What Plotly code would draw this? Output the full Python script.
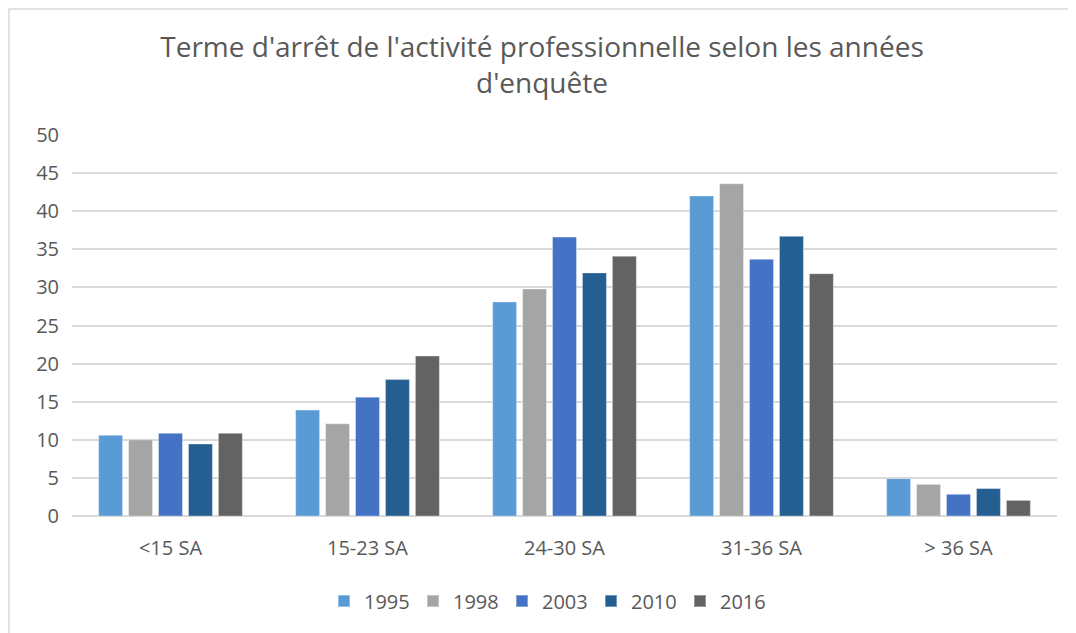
import plotly.graph_objects as go

categories = ["<15 SA", "15-23 SA", "24-30 SA", "31-36 SA", "> 36 SA"]
years = ["1995", "1998", "2003", "2010", "2016"]
v1995 = [10.6, 13.9, 28.1, 42.0, 4.9]
v1998 = [10.0, 12.1, 29.8, 43.6, 4.15]
v2003 = [10.85, 15.6, 36.6, 33.7, 2.85]
v2010 = [9.45, 17.9, 31.9, 36.7, 3.6]
v2016 = [10.85, 21.0, 34.1, 31.8, 2.05]
series = [v1995, v1998, v2003, v2010, v2016]
colors = ["#5B9BD5", "#A5A5A5", "#4472C4", "#255E91", "#636363"]

FONT = "Open Sans"
TXT = "#595959"

fig = go.Figure()
for name, vals, col in zip(years, series, colors):
    fig.add_trace(go.Bar(
        x=categories, y=vals, name=name,
        marker=dict(color=col, line=dict(color="rgba(255,255,255,0.35)", width=1)),
    ))

OFF = 8  # default page body margin
W, H = 1076 - OFF, 633 - OFF
L, R, T, B = 72 - OFF, 19, 135 - OFF, 117
pw, ph = W - L - R, H - T - B

def px(x):  # page pixel -> paper coordinate
    return (x - OFF - L) / pw

def py(y):
    return (H - B - (y - OFF)) / ph

fig.update_layout(
    width=W, height=H,
    margin=dict(l=L, r=R, t=T, b=B),
    paper_bgcolor="white", plot_bgcolor="white",
    barmode="group", bargap=0.24, bargroupgap=0.2,
    title=dict(
        text="Terme d'arrêt de l'activité professionnelle selon les années<br>d'enquête",
        x=0.5, xanchor="center", y=1 - (57 - OFF) / H, yanchor="middle",
        font=dict(family=FONT, size=28, color=TXT),
    ),
    font=dict(family=FONT, color=TXT),
    legend=dict(
        orientation="h", x=0.5 - 18 / pw, xanchor="center", y=py(601), yanchor="middle",
        font=dict(family=FONT, size=20, color=TXT),
        entrywidth=44, entrywidthmode="pixels", itemsizing="constant",
        traceorder="normal",
    ),
    xaxis=dict(
        showgrid=False, showline=False, ticks="", ticklabelstandoff=18,
        tickfont=dict(family=FONT, size=20, color=TXT),
    ),
    yaxis=dict(
        range=[0, 50], dtick=5, showgrid=True, gridcolor="#D9D9D9", gridwidth=1.5,
        zeroline=True, zerolinecolor="#D9D9D9", zerolinewidth=1.5,
        showline=False, ticks="outside", ticklen=8, tickcolor="rgba(0,0,0,0)",
        tickfont=dict(family=FONT, size=20, color=TXT),
    ),
    shapes=[dict(
        type="rect", xref="paper", yref="paper",
        x0=px(OFF + 1), y0=py(720), x1=px(1300), y1=py(OFF + 1),
        line=dict(color="#D9D9D9", width=1.5), fillcolor="rgba(0,0,0,0)", layer="below",
    )],
    showlegend=True,
)

fig.write_html("out.html")
